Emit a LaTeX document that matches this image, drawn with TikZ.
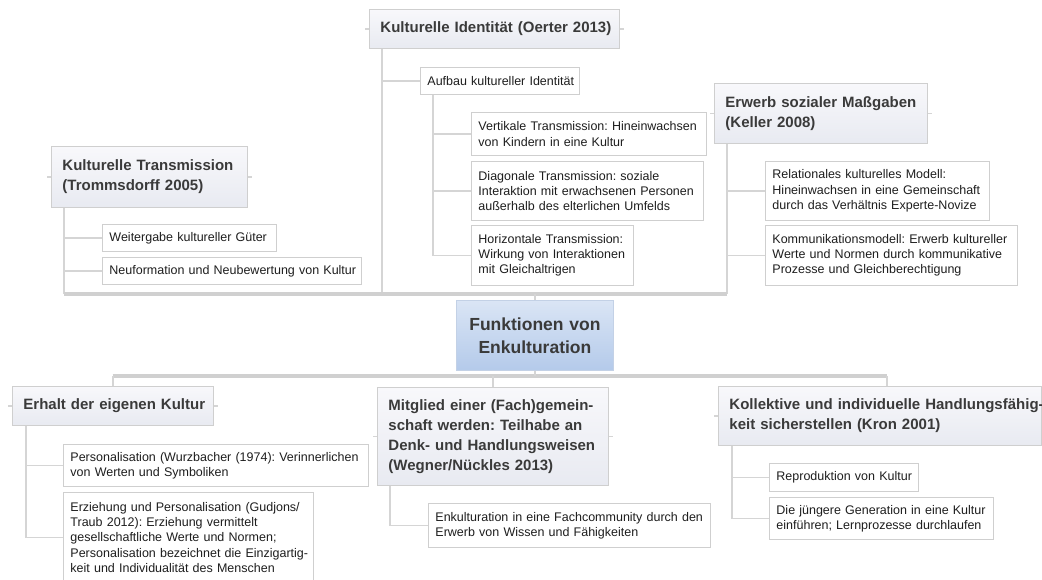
\documentclass[tikz,border=0pt]{standalone}
\usepackage{fontspec}
\setmainfont{Liberation Sans}
\frenchspacing
\definecolor{wirec}{HTML}{D5D5D5}
\definecolor{busc}{HTML}{D0D0D0}
\definecolor{boxline}{HTML}{CFCFCF}
\definecolor{ttop}{HTML}{F8F8FB}
\definecolor{tbot}{HTML}{E8EAF1}
\definecolor{ctop}{HTML}{DAE5F5}
\definecolor{cbot}{HTML}{B4CAEA}
\definecolor{cline}{HTML}{C3D1E6}
\definecolor{titletext}{HTML}{3A3A3A}
\definecolor{subtext}{HTML}{1E1E1E}
\begin{document}
\begin{tikzpicture}[x=1pt,y=-1pt,
  title/.style={draw=boxline, line width=0.9pt, top color=ttop, bottom color=tbot,
    anchor=north west, inner xsep=11pt, inner ysep=0pt, align=left, text=titletext,
    font=\fontsize{15}{20}\selectfont\bfseries},
  sub/.style={draw=boxline, line width=0.9pt, fill=white,
    anchor=north west, inner xsep=7pt, inner ysep=0pt, align=left, text=subtext,
    font=\fontsize{12.5}{15.3}\selectfont},
  core/.style={draw=cline, line width=0.9pt, top color=ctop, bottom color=cbot,
    anchor=north west, inner xsep=10pt, inner ysep=0pt, align=center, text=titletext,
    font=\fontsize{17.5}{22.7}\selectfont\bfseries},
  wire/.style={draw=wirec, line width=1.6pt},
  bus/.style={draw=busc, line width=4.5pt}]

\path[use as bounding box, fill=white] (0,0) rectangle (1042,580);

% central topic
\node[core, text width=137pt, minimum height=70pt] (center) at (456,300)
  {Funktionen von\\Enkulturation};

% upper half
\node[title, text width=228pt, minimum height=39pt] (ident) at (369,9)
  {\mbox{Kulturelle Identität (Oerter 2013)}};
\node[sub, text width=145pt, minimum height=27pt] (aufbau) at (420,67)
  {\mbox{Aufbau kultureller Identität}};
\node[sub, text width=221pt, minimum height=43pt] (vert) at (471,112)
  {\mbox{Vertikale Transmission: Hineinwachsen}\\\mbox{von Kindern in eine Kultur}};
\node[sub, text width=218pt, minimum height=59pt] (diag) at (471,161)
  {\mbox{Diagonale Transmission: soziale}\\\mbox{Interaktion mit erwachsenen Personen}\\\mbox{außerhalb des elterlichen Umfelds}};
\node[sub, text width=148pt, minimum height=60pt] (hori) at (471,225)
  {\mbox{Horizontale Transmission:}\\\mbox{Wirkung von Interaktionen}\\\mbox{mit Gleichaltrigen}};

\node[title, text width=174pt, minimum height=61pt] (trans) at (51,146)
  {\mbox{Kulturelle Transmission}\\\mbox{(Trommsdorff 2005)}};
\node[sub, text width=160pt, minimum height=27pt] (weiter) at (102,224)
  {\mbox{Weitergabe kultureller Güter}};
\node[sub, text width=245pt, minimum height=27pt] (neuf) at (102,257)
  {\mbox{Neuformation und Neubewertung von Kultur}};

\node[title, text width=191pt, minimum height=60pt] (keller) at (714,83)
  {\mbox{Erwerb sozialer Maßgaben}\\\mbox{(Keller 2008)}};
\node[sub, text width=210pt, minimum height=59pt] (relat) at (765,161)
  {\mbox{Relationales kulturelles Modell:}\\\mbox{Hineinwachsen in eine Gemeinschaft}\\\mbox{durch das Verhältnis Experte-Novize}};
\node[sub, text width=238pt, minimum height=60pt] (kommu) at (765,225)
  {\mbox{Kommunikationsmodell: Erwerb kultureller}\\\mbox{Werte und Normen durch kommunikative}\\\mbox{Prozesse und Gleichberechtigung}};

% lower half
\node[title, text width=179pt, minimum height=39pt] (erhalt) at (12,386)
  {\mbox{Erhalt der eigenen Kultur}};
\node[sub, text width=291pt, minimum height=42pt] (perso) at (63,444)
  {\mbox{Personalisation (Wurzbacher (1974): Verinnerlichen}\\\mbox{von Werten und Symboliken}};
\node[sub, text width=236pt, minimum height=90pt] (erzieh) at (63,492)
  {\mbox{Erziehung und Personalisation (Gudjons/}\\\mbox{Traub 2012): Erziehung vermittelt}\\\mbox{gesellschaftliche Werte und Normen;}\\\mbox{Personalisation bezeichnet die Einzigartig-}\\\mbox{keit und Individualität des Menschen}};

\node[title, text width=209pt, minimum height=98pt] (mitglied) at (377,387)
  {\mbox{Mitglied einer (Fach)gemein-}\\\mbox{schaft werden: Teilhabe an}\\\mbox{Denk- und Handlungsweisen}\\\mbox{(Wegner/Nückles 2013)}};
\node[sub, text width=268pt, minimum height=44pt] (enkult) at (428,503)
  {\mbox{Enkulturation in eine Fachcommunity durch den}\\\mbox{Erwerb von Wissen und Fähigkeiten}};

\node[title, text width=301pt, minimum height=59pt] (kron) at (718,386)
  {\mbox{Kollektive und individuelle Handlungsfähig-}\\\mbox{keit sicherstellen (Kron 2001)}};
\node[sub, text width=135pt, minimum height=28pt] (repro) at (769,463)
  {\mbox{Reproduktion von Kultur}};
\node[sub, text width=210pt, minimum height=42pt] (jung) at (769,497)
  {\mbox{Die jüngere Generation in eine Kultur}\\\mbox{einführen; Lernprozesse durchlaufen}};

% bus ends and spine origins
\coordinate (topL) at (64,294);
\coordinate (topR) at (727,294);
\coordinate (botL) at (112.5,376);
\coordinate (botR) at (887,376);
\coordinate (idsp) at ([xshift=13pt]ident.south west);
\coordinate (ausp) at ([xshift=13pt]aufbau.south west);
\coordinate (trsp) at ([xshift=13pt]trans.south west);
\coordinate (kesp) at ([xshift=13pt]keller.south west);
\coordinate (ersp) at ([xshift=14pt]erhalt.south west);
\coordinate (mgsp) at ([xshift=13pt]mitglied.south west);
\coordinate (krsp) at ([xshift=14pt]kron.south west);
\coordinate (krtop) at ([xshift=169pt]kron.north west);

% upper tree
\draw[wire] (idsp) -- (idsp |- topL);
\draw[wire] (idsp) |- (aufbau.west);
\draw[wire] (ausp) |- (vert.west);
\draw[wire] (ausp) |- (diag.west);
\draw[wire] (ausp) |- (hori.west);
\draw[wire] (trsp) -- (topL);
\draw[wire] (trsp) |- (weiter.west);
\draw[wire] (trsp) |- (neuf.west);
\draw[wire] (kesp) -- (topR);
\draw[wire] (kesp) |- (relat.west);
\draw[wire] (kesp) |- (kommu.west);
\draw[bus] (topL) -- (topR);
\draw[wire] (center.north) -- (center.north |- topL);

% lower tree
\draw[bus] (botL) -- (botR);
\draw[wire] (center.south) -- (center.south |- botL);
\draw[wire] (erhalt.north) -- (erhalt.north |- botL);
\draw[wire] (mitglied.north) -- (mitglied.north |- botL);
\draw[wire] (krtop) -- (botR);
\draw[wire] (ersp) |- (perso.west);
\draw[wire] (ersp) |- (erzieh.west);
\draw[wire] (mgsp) |- (enkult.west);
\draw[wire] (krsp) |- (repro.west);
\draw[wire] (krsp) |- (jung.west);

% short side ticks on the topic boxes
\foreach \n in {ident,trans,keller,erhalt,mitglied} {
  \draw[wire] (\n.west) -- ++(-4,0);
  \draw[wire] (\n.east) -- ++(4,0);
}
\draw[wire] (kron.west) -- ++(-4,0);
\end{tikzpicture}
\end{document}
